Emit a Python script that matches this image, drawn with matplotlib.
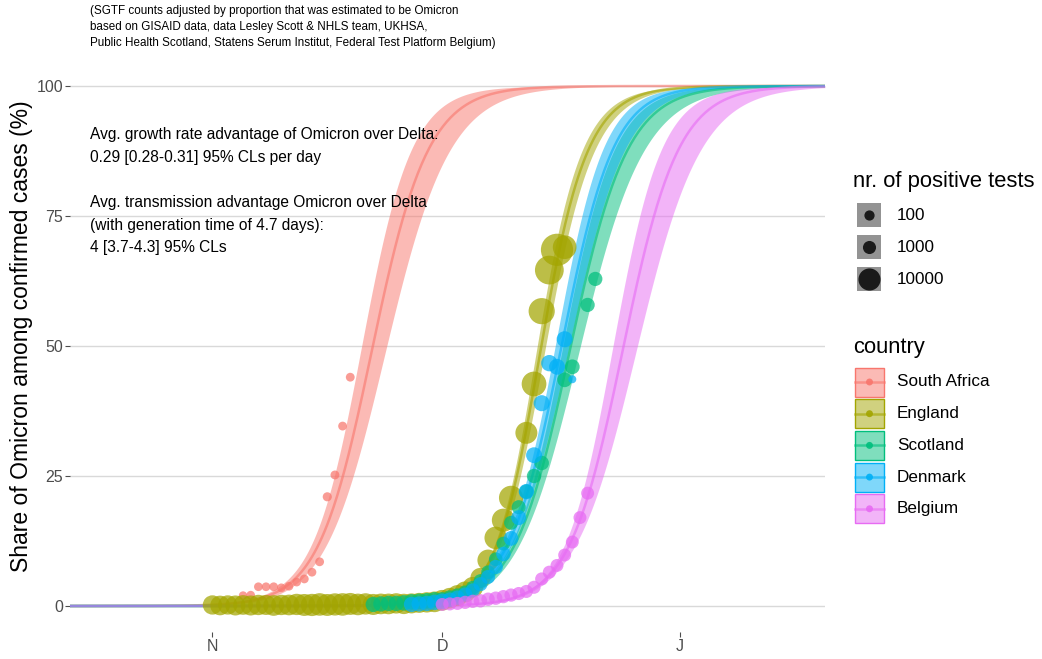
import numpy as np
import matplotlib.pyplot as plt

plt.rcParams['font.family'] = ['Liberation Sans', 'DejaVu Sans']

countries = ['South Africa', 'England', 'Scotland', 'Denmark', 'Belgium']
colours = ['#F8766D', '#A3A500', '#00BF7D', '#00B0F6', '#E76BF3']

# observations: day since 1 Nov 2021, share Omicron (%), nr. of positive tests
sa_day = [4, 5, 6, 7, 8, 9, 10, 11, 12, 13, 14, 15, 16, 17, 18]
sa_pct = [2.0, 2.1, 3.7, 3.7, 3.7, 3.5, 3.8, 4.6, 5.2, 6.5, 8.5, 21.0, 25.2, 34.6, 44.0]
sa_n = [60, 60, 80, 80, 90, 80, 80, 80, 90, 90, 100, 150, 110, 100, 100]

eng_day = list(range(0, 40)) + [41, 42, 43, 44, 45, 46]
eng_pct = [0.2, 0.1, 0.2, 0.1, 0.2, 0.1, 0.2, 0.2, 0.1, 0.2,
           0.2, 0.3, 0.2, 0.2, 0.3, 0.2, 0.3, 0.3, 0.4, 0.3,
           0.4, 0.3, 0.4, 0.4, 0.5, 0.4, 0.5, 0.6, 0.7, 0.8,
           1.1, 1.5, 2.0, 2.7, 3.6, 5.4, 8.8, 13.1, 16.5, 20.8,
           33.3, 42.7, 56.7, 64.6, 68.5, 69.0]
eng_n = [8000, 8500, 8000, 9000, 8500, 9000, 9500, 9000, 10000, 9500,
         10000, 11000, 12000, 12500, 13000, 12000, 12500, 13000, 12000, 11500,
         11000, 10500, 10000, 10000, 9500, 9500, 9000, 9000, 9500, 10000,
         10000, 10000, 10500, 10500, 10000, 9000, 11000, 13000, 14000, 16000,
         12000, 17000, 20000, 26000, 35000, 15000]

sco_day = list(range(21, 44)) + [46, 47, 49, 50]
sco_pct = [0.3, 0.4, 0.5, 0.5, 0.6, 0.8, 0.9, 1.0, 1.2, 1.2,
           1.6, 2.0, 2.6, 3.5, 4.8, 6.5, 9.0, 12.0, 16.0, 19.0,
           22.0, 25.0, 27.5, 43.5, 46.0, 57.9, 62.9]
sco_n = [3500, 3500, 3600, 3600, 3700, 3700, 3800, 3800, 3600, 3500,
         3000, 2800, 2500, 2400, 2300, 2200, 2200, 2300, 2400, 2500,
         2600, 2700, 2800, 3000, 3000, 2600, 2600]

den_day = list(range(26, 48))
den_pct = [0.3, 0.4, 0.5, 0.7, 0.9, 1.2, 1.6, 2.2, 3.0, 4.2,
           5.6, 7.5, 10.0, 13.0, 17.0, 22.0, 29.0, 39.0, 46.7, 46.0,
           51.3, 43.6]
den_n = [3500, 3500, 3600, 3700, 3800, 3000, 2800, 2600, 2500, 2500,
         2500, 2600, 2800, 3000, 3200, 3500, 4000, 4200, 4500, 4000,
         4200, 15]

bel_day = list(range(30, 50))
bel_pct = [0.3, 0.4, 0.5, 0.7, 0.9, 1.0, 1.3, 1.5, 1.8, 2.1,
           2.4, 2.8, 3.6, 5.2, 6.5, 7.8, 9.8, 12.3, 17.0, 21.7]
bel_n = [1700, 1800, 1800, 1900, 1900, 2000, 2000, 2000, 1900, 1900,
         1800, 1800, 1800, 1800, 1800, 1700, 1700, 1700, 1700, 1700]

obs_day = [sa_day, eng_day, sco_day, den_day, bel_day]
obs_pct = [sa_pct, eng_pct, sco_pct, den_pct, bel_pct]
obs_n = [sa_n, eng_n, sco_n, den_n, bel_n]

# fitted logistic curves: day of 50%, early / late logit slopes per day,
# and the spread of the 95% band on the logit scale
mid_day = [20.95, 42.95, 46.8, 45.6, 53.7]
rate_early = [0.29, 0.37, 0.28, 0.28, 0.29]
rate_late = [0.265, 0.30, 0.26, 0.30, 0.27]
ci_centre = [10, 30, 38, 38, 42]
ci_base = [0.25, 0.10, 0.15, 0.15, 0.12]
ci_slope = [0.034, 0.012, 0.030, 0.028, 0.036]

size_breaks = [100, 1000, 10000]
month_ticks = [0, 30, 61]
month_labels = ['N', 'D', 'J']

annotation = ['Avg. growth rate advantage of Omicron over Delta:',
              '0.29 [0.28-0.31] 95% CLs per day',
              '',
              'Avg. transmission advantage Omicron over Delta',
              '(with generation time of 4.7 days):',
              '4 [3.7-4.3] 95% CLs']
caption = ['(SGTF counts adjusted by proportion that was estimated to be Omicron',
           'based on GISAID data, data Lesley Scott & NHLS team, UKHSA,',
           'Public Health Scotland, Statens Serum Institut, Federal Test Platform Belgium)']


def fitted_logit(t, mid, r1, r2, s=3.0):
    u = t - mid
    return r2 * u - (r1 - r2) * s * (np.logaddexp(0, -u / s) - np.log(2))


def expit(x):
    return 1 / (1 + np.exp(-x))


def point_diam(n):
    # diameter in pixels grows with sqrt of the count
    return 7.5 + 0.132 * np.sqrt(np.asarray(n, dtype=float))


W, H = 1042, 659
fig = plt.figure(figsize=(W / 100, H / 100), dpi=100)
ax = fig.add_axes([70 / W, 1 - 632 / H, 755 / W, 572 / H])

t = np.linspace(-18.6, 80.0, 600)
for i, col in enumerate(colours):
    eta = fitted_logit(t, mid_day[i], rate_early[i], rate_late[i])
    w = np.sqrt(ci_base[i] ** 2 + (ci_slope[i] * (t - ci_centre[i])) ** 2)
    ax.fill_between(t, 100 * expit(eta - w), 100 * expit(eta + w),
                    color=col, alpha=0.5, lw=0, zorder=2)
    ax.plot(t, 100 * expit(eta), color=col, alpha=0.6, lw=1.8, zorder=3)

for i, col in enumerate(colours):
    s = (point_diam(obs_n[i]) * 0.72) ** 2
    ax.scatter(obs_day[i], obs_pct[i], s=s, color=col, alpha=0.72,
               edgecolors='none', zorder=4)

ax.set_xlim(-18.6, 80.0)
ax.set_ylim(-5, 105)
ax.set_yticks([0, 25, 50, 75, 100])
ax.set_xticks(month_ticks)
ax.set_xticklabels(month_labels)
ax.grid(axis='y', color='#D9D9D9', lw=1.0)
ax.set_axisbelow(True)
for sp in ax.spines.values():
    sp.set_visible(False)
ax.tick_params(colors='#4D4D4D', labelsize=11.5, length=3.5, width=0.8)
ax.tick_params(axis='y', pad=1.5)
ax.tick_params(axis='x', pad=1.5)

fig.text(22 / W, 1 - 336 / H, 'Share of Omicron among confirmed cases (%)',
         rotation=90, ha='center', va='center', fontsize=16.5)

for k, line in enumerate(annotation):
    fig.text(90 / W, 1 - (135 + 22.5 * k) / H, line, ha='left', va='center',
             fontsize=11.2)
for k, line in enumerate(caption):
    fig.text(90 / W, 1 - (11 + 16 * k) / H, line, ha='left', va='center',
             fontsize=8.4)

# legends drawn in pixel coordinates
lg = fig.add_axes([0, 0, 1, 1])
lg.set_xlim(0, W)
lg.set_ylim(H, 0)
lg.axis('off')

lg.text(853, 181, 'nr. of positive tests', fontsize=15.8, va='center')
for k, n in enumerate(size_breaks):
    yc = 215 + 32 * k
    lg.add_patch(plt.Rectangle((857, yc - 12), 24, 24, color='#939393', lw=0))
    lg.scatter([869], [yc], s=(point_diam(n) * 0.72) ** 2, color='#1A1A1A', zorder=3)
    lg.text(897, yc, str(n), fontsize=12.3, va='center')

lg.text(853, 347, 'country', fontsize=15.8, va='center')
for k, (name, col) in enumerate(zip(countries, colours)):
    yc = 382 + 31.7 * k
    lg.add_patch(plt.Rectangle((855, yc - 14.5), 29, 29, facecolor=col, alpha=0.5,
                               edgecolor='none'))
    lg.add_patch(plt.Rectangle((855, yc - 14.5), 29, 29, facecolor='none',
                               edgecolor=col, lw=1.0))
    lg.plot([855, 884], [yc, yc], color=col, alpha=0.6, lw=1.8)
    lg.scatter([869.5], [yc], s=25, color=col, alpha=0.9, edgecolors='none', zorder=3)
    lg.text(897, yc, name, fontsize=12.3, va='center')

fig.savefig('out.png', dpi=100)
